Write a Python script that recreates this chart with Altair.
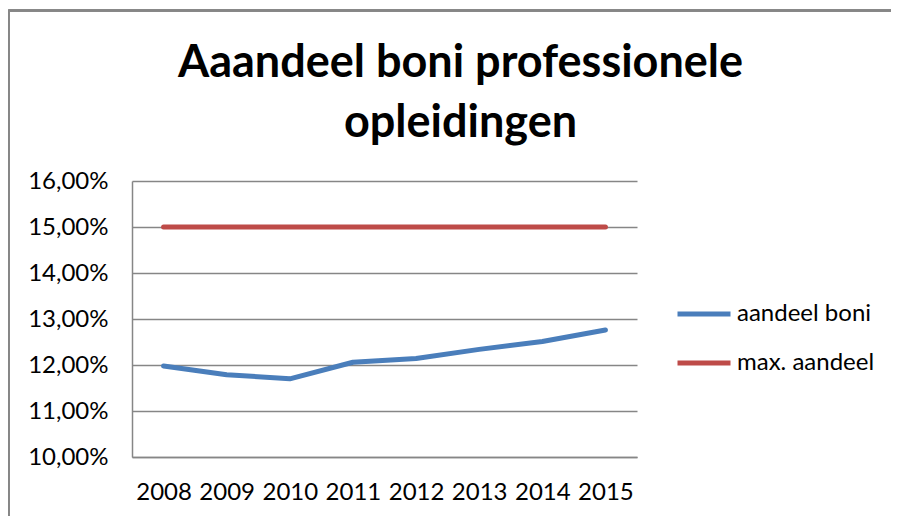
import altair as alt
import pandas as pd

years = ["2008", "2009", "2010", "2011", "2012", "2013", "2014", "2015"]
aandeel_boni = [0.1198, 0.1179, 0.1170, 0.1206, 0.1214, 0.1234, 0.1251, 0.1276]
max_aandeel = [0.15, 0.15, 0.15, 0.15, 0.15, 0.15, 0.15, 0.15]
series_names = ["aandeel boni", "max. aandeel"]
series_colors = ["#4A7EBB", "#BE4B48"]
y_ticks = [0.10, 0.11, 0.12, 0.13, 0.14, 0.15, 0.16]

rows = []
for y, b, m in zip(years, aandeel_boni, max_aandeel):
    rows.append({"jaar": y, "reeks": series_names[0], "waarde": b})
    rows.append({"jaar": y, "reeks": series_names[1], "waarde": m})
df = pd.DataFrame(rows)

FONT = "Lato"
GRAY = "#868686"

lines = alt.Chart(df).mark_line(strokeWidth=5, strokeCap="round", strokeJoin="round").encode(
    x=alt.X("jaar:O", sort=years, title=None,
            scale=alt.Scale(type="point", padding=0.5),
            axis=alt.Axis(labelAngle=0, ticks=False, grid=False, domainColor=GRAY,
                          domainWidth=1.5, labelFontSize=24, labelFont=FONT,
                          labelColor="#000000", labelPadding=23)),
    y=alt.Y("waarde:Q", title=None,
            scale=alt.Scale(domain=[0.10, 0.16], nice=False, zero=False),
            axis=alt.Axis(values=y_ticks, ticks=False, grid=True, gridColor=GRAY,
                          gridWidth=1.3, domainColor=GRAY, domainWidth=1.5,
                          labelFontSize=24, labelFont=FONT, labelColor="#000000",
                          labelPadding=24,
                          labelExpr="replace(format(datum.value, '.2%'), '.', ',')")),
    color=alt.Color("reeks:N", sort=series_names,
                    scale=alt.Scale(domain=series_names, range=series_colors),
                    legend=alt.Legend(title=None, orient="none", legendX=543, legendY=119,
                                      symbolType="stroke", symbolSize=2809,
                                      symbolStrokeWidth=5, labelFontSize=24,
                                      labelFont=FONT, labelColor="#000000",
                                      labelOffset=4, clipHeight=28, rowPadding=21)),
)

border_top = alt.Chart(df).mark_rule(color=GRAY, strokeWidth=1.5).encode(
    x=alt.value(-123.5), x2=alt.value(800), y=alt.value(-170.5))
border_left = alt.Chart(df).mark_rule(color=GRAY, strokeWidth=1.5).encode(
    x=alt.value(-123.5), y=alt.value(-170.5), y2=alt.value(400))

chart = alt.layer(border_top, border_left, lines).properties(
    width=505,
    height=276,
    autosize=alt.AutoSizeParams(type="none"),
    padding={"left": 124, "top": 173, "right": 254, "bottom": 60},
    title=alt.TitleParams(
        text=["Aaandeel boni professionele", "opleidingen"],
        font=FONT, fontSize=45, fontWeight="bold", color="#000000",
        anchor="middle", frame="group", dx=76, offset=-136.6, lineHeight=60),
).configure_view(stroke=None)

chart.save("out.html", embed_options={"renderer": "svg", "actions": False})
